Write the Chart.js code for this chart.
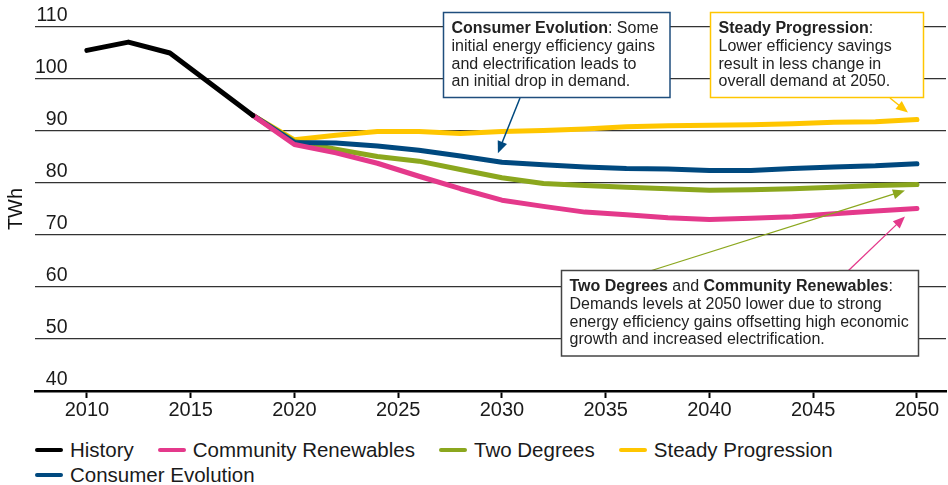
<!DOCTYPE html>
<html lang="en">
<head>
    <meta charset="UTF-8">
    <title>Electricity Demand Scenarios</title>
    <script src="https://cdn.jsdelivr.net/npm/chart.js"></script>
    <style>
        html, body { margin: 0; padding: 0; background: #fff; }
        body { width: 948px; height: 485px; overflow: hidden; position: relative;
               font-family: "Liberation Sans", Arial, sans-serif; color: #1a1a1a; }
        .chart-box { position: absolute; left: 0; top: 0; width: 948px; height: 430px; }
        .legend { position: absolute; left: 35px; top: 437px; width: 900px;
                  display: flex; flex-wrap: wrap; font-size: 20.5px; line-height: 25px; }
        .legend-item { display: flex; align-items: center; margin-right: 24px; white-space: nowrap; }
        .legend-color { width: 28px; height: 4px; border-radius: 2px; margin-right: 7px; }
    </style>
</head>
<body>
    <div class="chart-box">
        <canvas id="demandChart"></canvas>
    </div>
    <div class="legend" id="legend"></div>

    <script>
        // data
        const historyYears = [2010, 2012, 2014, 2016, 2018];
        const historyValues = [105.5, 107.1, 105.0, 99.0, 93.0];

        const scenarioYears = [2018, 2020, 2022, 2024, 2026, 2028, 2030, 2032, 2034,
                               2036, 2038, 2040, 2042, 2044, 2046, 2048, 2050];
        const communityRenewables = [93.0, 87.4, 85.8, 83.8, 81.3, 78.9, 76.7, 75.5, 74.4,
                                     73.9, 73.3, 73.0, 73.2, 73.5, 74.1, 74.6, 75.1];
        const twoDegrees = [93.0, 88.0, 86.5, 85.1, 84.2, 82.6, 81.0, 79.9, 79.5,
                            79.2, 78.9, 78.6, 78.7, 78.9, 79.2, 79.5, 79.7];
        const steadyProgression = [93.0, 88.3, 89.2, 89.9, 89.9, 89.5, 89.9, 90.1, 90.4,
                                   90.8, 91.0, 91.1, 91.2, 91.4, 91.7, 91.8, 92.2];
        const consumerEvolution = [93.0, 87.8, 87.7, 87.1, 86.3, 85.2, 84.0, 83.5, 83.1,
                                   82.8, 82.7, 82.4, 82.4, 82.8, 83.1, 83.3, 83.7];

        const xTickValues = [2010, 2015, 2020, 2025, 2030, 2035, 2040, 2045, 2050];
        const yTickValues = [40, 50, 60, 70, 80, 90, 100, 110];

        const colors = {
            history: '#000000',
            community: '#E4398B',
            twoDeg: '#8BA71E',
            steady: '#FFC600',
            consumer: '#00497F'
        };

        const FONT = '"Liberation Sans", Arial, sans-serif';

        function pairs(xs, ys) {
            return xs.map((x, i) => ({ x: x, y: ys[i] }));
        }

        function line(label, years, values, color, order) {
            return {
                label: label,
                data: pairs(years, values),
                borderColor: color,
                backgroundColor: color,
                borderWidth: 5,
                pointRadius: 0,
                tension: 0,
                borderCapStyle: 'round',
                borderJoinStyle: 'round',
                fill: false,
                order: order
            };
        }

        const datasets = [
            line('History', historyYears, historyValues, colors.history, 0),
            line('Community Renewables', scenarioYears, communityRenewables, colors.community, 1),
            line('Two Degrees', scenarioYears, twoDegrees, colors.twoDeg, 3),
            line('Steady Progression', scenarioYears, steadyProgression, colors.steady, 4),
            line('Consumer Evolution', scenarioYears, consumerEvolution, colors.consumer, 2)
        ];

        // HTML legend
        const legendEl = document.getElementById('legend');
        datasets.forEach(ds => {
            legendEl.innerHTML += `
                <div class="legend-item">
                    <div class="legend-color" style="background:${ds.borderColor}"></div>
                    <span>${ds.label}</span>
                </div>`;
        });

        // annotation boxes + arrows
        function drawArrow(ctx, x1, y1, x2, y2, color, width) {
            const ang = Math.atan2(y2 - y1, x2 - x1);
            const head = 12, half = 5;
            ctx.save();
            ctx.strokeStyle = color;
            ctx.fillStyle = color;
            ctx.lineWidth = width;
            ctx.beginPath();
            ctx.moveTo(x1, y1);
            ctx.lineTo(x2 - head * 0.8 * Math.cos(ang), y2 - head * 0.8 * Math.sin(ang));
            ctx.stroke();
            ctx.beginPath();
            ctx.moveTo(x2, y2);
            ctx.lineTo(x2 - head * Math.cos(ang) + half * Math.sin(ang), y2 - head * Math.sin(ang) - half * Math.cos(ang));
            ctx.lineTo(x2 - head * Math.cos(ang) - half * Math.sin(ang), y2 - head * Math.sin(ang) + half * Math.cos(ang));
            ctx.closePath();
            ctx.fill();
            ctx.restore();
        }

        function drawNote(ctx, box, lines, border) {
            ctx.save();
            ctx.fillStyle = '#ffffff';
            ctx.fillRect(box.x, box.y, box.w, box.h);
            ctx.strokeStyle = border;
            ctx.lineWidth = 1.5;
            ctx.strokeRect(box.x, box.y, box.w, box.h);
            ctx.fillStyle = '#222222';
            ctx.textBaseline = 'middle';
            ctx.textAlign = 'left';
            lines.forEach((parts, i) => {
                let tx = box.x + 8;
                const ty = box.y + 16.5 + i * 17.6;
                parts.forEach(p => {
                    ctx.font = (p.b ? 'bold ' : '') + '16px ' + FONT;
                    ctx.fillText(p.t, tx, ty);
                    tx += ctx.measureText(p.t).width;
                });
            });
            ctx.restore();
        }

        const notesPlugin = {
            id: 'notes',
            afterDatasetsDraw(chart) {
                const ctx = chart.ctx;
                const xs = chart.scales.x, ys = chart.scales.y;
                const last = scenarioYears.length - 1;
                const i2030 = scenarioYears.indexOf(2030);

                // Consumer Evolution
                drawArrow(ctx, 520, 98,
                    xs.getPixelForValue(2030) - 4, ys.getPixelForValue(consumerEvolution[i2030]) - 9,
                    colors.consumer, 1.5);
                drawNote(ctx, { x: 443.5, y: 12.5, w: 226.5, h: 85 }, [
                    [{ t: 'Consumer Evolution', b: true }, { t: ': Some' }],
                    [{ t: 'initial energy efficiency gains' }],
                    [{ t: 'and electrification leads to' }],
                    [{ t: 'an initial drop in demand.' }]
                ], '#1F4E7D');

                // Steady Progression
                drawArrow(ctx, 890, 98,
                    xs.getPixelForValue(2050) - 9, ys.getPixelForValue(steadyProgression[last]) - 7,
                    colors.steady, 1.5);
                drawNote(ctx, { x: 710.5, y: 12.5, w: 213, h: 85 }, [
                    [{ t: 'Steady Progression', b: true }, { t: ':' }],
                    [{ t: 'Lower efficiency savings' }],
                    [{ t: 'result in less change in' }],
                    [{ t: 'overall demand at 2050.' }]
                ], colors.steady);

                // Two Degrees and Community Renewables
                drawArrow(ctx, 650, 271,
                    xs.getPixelForValue(2050) - 12, ys.getPixelForValue(twoDegrees[last]) + 6,
                    colors.twoDeg, 1.3);
                drawArrow(ctx, 848, 271,
                    xs.getPixelForValue(2050) - 12, ys.getPixelForValue(communityRenewables[last]) + 8,
                    colors.community, 1.3);
                drawNote(ctx, { x: 561.5, y: 270.5, w: 357, h: 85.5 }, [
                    [{ t: 'Two Degrees', b: true }, { t: ' and ' }, { t: 'Community Renewables', b: true }, { t: ':' }],
                    [{ t: 'Demands levels at 2050 lower due to strong' }],
                    [{ t: 'energy efficiency gains offsetting high economic' }],
                    [{ t: 'growth and increased electrification.' }]
                ], '#444444');
            }
        };

        const ctx = document.getElementById('demandChart').getContext('2d');
        new Chart(ctx, {
            type: 'line',
            data: { datasets: datasets },
            options: {
                responsive: true,
                maintainAspectRatio: false,
                animation: false,
                parsing: true,
                layout: { padding: { left: 0, right: 2, top: 27, bottom: 8 } },
                plugins: {
                    legend: { display: false },
                    tooltip: { enabled: false }
                },
                scales: {
                    x: {
                        type: 'linear',
                        min: 2007.5,
                        max: 2051.4,
                        afterBuildTicks: scale => { scale.ticks = xTickValues.map(v => ({ value: v })); },
                        grid: { drawOnChartArea: false, drawTicks: true, tickLength: 7, tickWidth: 2, tickColor: '#000' },
                        border: { display: true, color: '#000', width: 2.5 },
                        ticks: {
                            padding: 0,
                            color: '#1a1a1a',
                            font: { family: FONT, size: 20 },
                            maxRotation: 0,
                            callback: v => String(v)
                        }
                    },
                    y: {
                        min: 40,
                        max: 110,
                        afterBuildTicks: scale => { scale.ticks = yTickValues.map(v => ({ value: v })); },
                        grid: { color: '#333', lineWidth: 1.2, drawTicks: false },
                        border: { display: false },
                        title: {
                            display: true,
                            text: 'TWh',
                            color: '#111',
                            font: { family: FONT, size: 20 },
                            padding: { top: 4, bottom: 7 }
                        },
                        ticks: {
                            mirror: true,
                            crossAlign: 'far',
                            padding: 0,
                            labelOffset: -11,
                            color: '#1a1a1a',
                            font: { family: FONT, size: 19.5 }
                        }
                    }
                }
            },
            plugins: [notesPlugin]
        });
    </script>
</body>
</html>
